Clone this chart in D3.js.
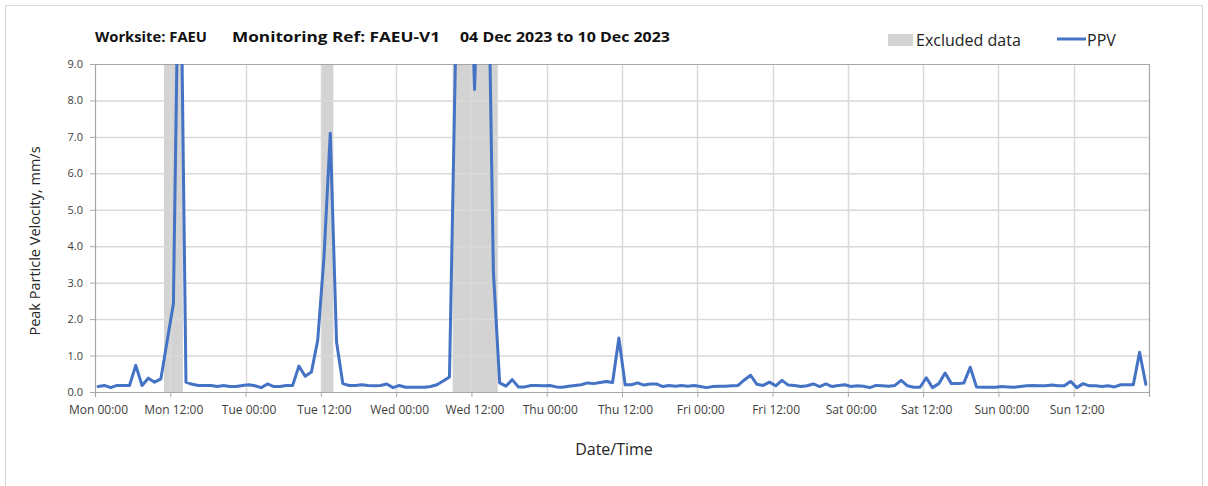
<!DOCTYPE html>
<html>
<head>
<meta charset="utf-8">
<script src="https://cdn.jsdelivr.net/npm/d3@7"></script>
<style>
  html, body { margin: 0; padding: 0; background: #fff; }
  svg { display: block; font-family: "Open Sans", "Noto Sans", sans-serif; }
</style>
</head>
<body>
<svg id="chart" width="1208" height="486"></svg>
<script>
// ---- Data (hourly PPV readings, mm/s, starting Mon 04 Dec 2023) ----
const ppv = [
  0.15, 0.18, 0.12, 0.18, 0.18, 0.18, 0.73, 0.18, 0.38, 0.27, 0.36, 1.4,
  2.43, 14.5, 0.27, 0.21, 0.18, 0.18, 0.18, 0.15, 0.18, 0.15, 0.15, 0.18,
  0.2, 0.17, 0.12, 0.22, 0.15, 0.15, 0.18, 0.18, 0.71, 0.43, 0.55, 1.42,
  3.7, 7.1, 1.37, 0.23, 0.18, 0.18, 0.2, 0.18, 0.17, 0.18, 0.22, 0.12,
  0.18, 0.13, 0.13, 0.13, 0.13, 0.15, 0.2, 0.3, 0.41, 9.6, 14, 14,
  8.3, 14, 14, 3.3, 0.25, 0.16, 0.34, 0.14, 0.14, 0.18, 0.18, 0.17,
  0.18, 0.14, 0.13, 0.16, 0.18, 0.2, 0.25, 0.23, 0.26, 0.29, 0.26, 1.48,
  0.2, 0.2, 0.25, 0.19, 0.22, 0.22, 0.15, 0.18, 0.16, 0.18, 0.16, 0.18,
  0.15, 0.12, 0.15, 0.16, 0.16, 0.17, 0.18, 0.33, 0.46, 0.21, 0.18, 0.27,
  0.17, 0.32, 0.19, 0.18, 0.15, 0.17, 0.22, 0.15, 0.22, 0.15, 0.18, 0.2,
  0.15, 0.17, 0.16, 0.12, 0.18, 0.17, 0.16, 0.18, 0.32, 0.17, 0.13, 0.13,
  0.39, 0.12, 0.23, 0.52, 0.23, 0.23, 0.25, 0.68, 0.14, 0.13, 0.13, 0.13,
  0.15, 0.14, 0.13, 0.15, 0.17, 0.18, 0.17, 0.17, 0.19, 0.17, 0.17, 0.29,
  0.12, 0.23, 0.17, 0.17, 0.15, 0.17, 0.14, 0.2, 0.2, 0.2, 1.09, 0.21
];
// sample times, hours after Mon 00:00 (readings logged at half past each hour)
const sampleHours = ppv.map((_, i) => i + 0.5);
// excluded data periods, [start hour, end hour] after Mon 00:00
const excludedStart = [11, 36.1, 57];
const excludedEnd   = [14, 38, 64.2];
const tickHours  = [0, 12, 24, 36, 48, 60, 72, 84, 96, 108, 120, 132, 144, 156, 168];
const tickLabels = ["Mon 00:00", "Mon 12:00", "Tue 00:00", "Tue 12:00", "Wed 00:00",
                    "Wed 12:00", "Thu 00:00", "Thu 12:00", "Fri 00:00", "Fri 12:00",
                    "Sat 00:00", "Sat 12:00", "Sun 00:00", "Sun 12:00", ""];
const yTicks = [0, 1, 2, 3, 4, 5, 6, 7, 8, 9];
const titleParts = ["Worksite: FAEU", "Monitoring Ref: FAEU-V1", "04 Dec 2023 to 10 Dec 2023"];

// ---- Layout ----
const L = 95, R = 1149, T = 64, B = 392;
const svg = d3.select("#chart");
const x = d3.scaleLinear().domain([0, 168]).range([L, R]);
const y = d3.scaleLinear().domain([0, 9]).range([B, T]);

// outer chart border
svg.append("rect").attr("x", 5.5).attr("y", 5.5).attr("width", 1197).attr("height", 490)
  .attr("fill", "none").attr("stroke", "#d9d9d9");

// excluded bands
svg.append("g").selectAll("rect").data(excludedStart).join("rect")
  .attr("x", (d) => x(d))
  .attr("width", (d, i) => x(excludedEnd[i]) - x(d))
  .attr("y", T).attr("height", B - T)
  .attr("fill", "#d3d3d3");

// gridlines
svg.append("g").selectAll("line").data(yTicks.filter(d => d > 0 && d < 9)).join("line")
  .attr("x1", L).attr("x2", R).attr("y1", d => y(d) + 0.5).attr("y2", d => y(d) + 0.5)
  .attr("stroke", "#d9d9d9").attr("stroke-width", 1.5);
svg.append("g").selectAll("line").data(tickHours.filter(d => d > 0 && d < 168)).join("line")
  .attr("x1", d => Math.round(x(d)) + 0.5).attr("x2", d => Math.round(x(d)) + 0.5)
  .attr("y1", T).attr("y2", B)
  .attr("stroke", "#d9d9d9").attr("stroke-width", 1.5);

// plot frame (top & right)
svg.append("line").attr("x1", L).attr("x2", R).attr("y1", T + 0.5).attr("y2", T + 0.5)
  .attr("stroke", "#a6a6a6").attr("stroke-width", 1.2);
svg.append("line").attr("x1", R + 0.5).attr("x2", R + 0.5).attr("y1", T).attr("y2", B)
  .attr("stroke", "#a6a6a6").attr("stroke-width", 1.2);

// axes
const xAxis = d3.axisBottom(x).tickValues(tickHours).tickFormat((d, i) => tickLabels[i])
  .tickSizeOuter(0).tickSize(5).tickPadding(8);
const gx = svg.append("g").attr("transform", `translate(0,${B})`).call(xAxis);
gx.select(".domain").attr("stroke", "#a6a6a6").attr("stroke-width", 1.2);
gx.selectAll(".tick line").attr("stroke", "#a6a6a6");
gx.selectAll(".tick text").attr("font-size", 12).attr("fill", "#404040")
  .attr("font-family", "'Open Sans', sans-serif").attr("dx", 3);

const yAxis = d3.axisLeft(y).tickValues(yTicks).tickFormat(d3.format(".1f"))
  .tickSizeOuter(0).tickSize(5).tickPadding(7);
const gy = svg.append("g").attr("transform", `translate(${L},0)`).call(yAxis);
gy.select(".domain").attr("stroke", "#a6a6a6").attr("stroke-width", 1.2);
gy.selectAll(".tick line").attr("stroke", "#a6a6a6");
gy.selectAll(".tick text").attr("font-size", 11).attr("fill", "#404040")
  .attr("font-family", "'Open Sans', sans-serif");

// PPV line (clipped to plot area)
svg.append("clipPath").attr("id", "plotClip").append("rect")
  .attr("x", L).attr("y", T).attr("width", R - L).attr("height", B - T);
const line = d3.line().x((d, i) => x(sampleHours[i])).y(d => y(d));
svg.append("path").datum(ppv)
  .attr("clip-path", "url(#plotClip)")
  .attr("d", line)
  .attr("fill", "none").attr("stroke", "#4472c4").attr("stroke-width", 3)
  .attr("stroke-linejoin", "round").attr("stroke-linecap", "round");

// title pieces
const titleX = [95, 232, 460];
const titleW = [112, 208, 210];
const title = svg.append("g").attr("font-weight", "bold").attr("font-size", 15).attr("fill", "#111");
title.selectAll("text").data(titleParts).join("text")
  .attr("x", (d, i) => titleX[i]).attr("y", 42)
  .attr("textLength", (d, i) => titleW[i]).attr("lengthAdjust", "spacingAndGlyphs")
  .text(d => d);

// legend
svg.append("rect").attr("x", 888).attr("y", 34).attr("width", 25).attr("height", 12).attr("fill", "#d3d3d3");
svg.append("text").attr("x", 916).attr("y", 45.5).attr("font-size", 16).attr("fill", "#222").text("Excluded data");
svg.append("line").attr("x1", 1057).attr("x2", 1086).attr("y1", 39).attr("y2", 39)
  .attr("stroke", "#4472c4").attr("stroke-width", 3);
svg.append("text").attr("x", 1087).attr("y", 45.5).attr("font-size", 16).attr("fill", "#222").text("PPV");

// axis titles
svg.append("text").attr("transform", "translate(40,241) rotate(-90)")
  .attr("text-anchor", "middle").attr("font-size", 14.5).attr("fill", "#262626")
  .text("Peak Particle Velocity, mm/s");
svg.append("text").attr("x", 614).attr("y", 455).attr("text-anchor", "middle")
  .attr("font-size", 16).attr("fill", "#262626").text("Date/Time");
</script>
</body>
</html>
